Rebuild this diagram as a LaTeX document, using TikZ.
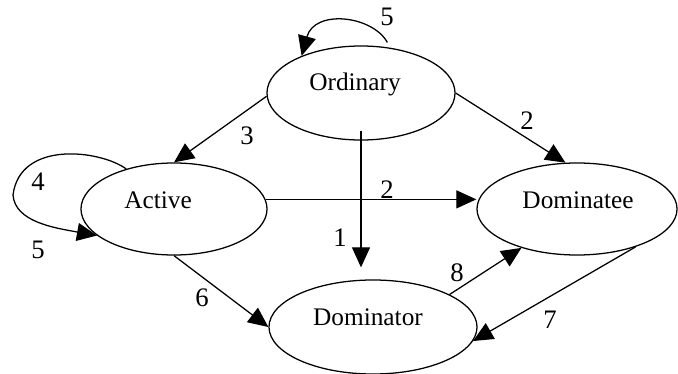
\documentclass[tikz,border=0pt]{standalone}
\usepackage{fontspec}
\setmainfont{Liberation Serif}
\usetikzlibrary{arrows.meta, shapes.geometric}

\begin{document}
\begin{tikzpicture}[
        x=0.025cm, y=-0.025cm,
        state/.style={ellipse, draw, line width=0.9pt, inner sep=0pt},
        statetext/.style={anchor=base, font=\fontsize{18}{20}\selectfont},
        num/.style={font=\fontsize{19}{21}\selectfont},
        every path/.style={line width=0.9pt},
        >={Triangle[length=0.5cm, width=0.45cm]}
    ]
    \useasboundingbox (0,0) rectangle (678,374);

    % states
    \node[state, minimum width=4.7cm, minimum height=2.35cm] (ord) at (361,93) {};
    \node[state, minimum width=4.65cm, minimum height=2.3cm] (act) at (174,209) {};
    \node[state, minimum width=5cm, minimum height=2.3cm] (dee) at (577,209) {};
    \node[state, minimum width=5.2cm, minimum height=2.35cm] (tor) at (373,327) {};

    \node[statetext] (ordText) at (355,91) {Ordinary};
    \node[statetext] (actText) at (158,208) {Active};
    \node[statetext] (deeText) at (578,208) {Dominatee};
    \node[statetext] (torText) at (368,325) {Dominator};

    % transitions
    \coordinate (drop) at (ord.south |- tor.north);
    \draw[->] (ord.182) -- (act.north);
    \draw[->] (ord.east) -- (dee.104);
    \draw[->] (act.6) -- (act.6 -| dee.west);
    \draw[->] ([yshift=0.25cm]ord.south) -- ([yshift=0.3cm]drop);
    \draw[->] (act.south) -- (tor.west);
    \draw[->] (tor.23) -- (dee.215);
    \draw[->] (dee.327) -- (tor.352);

    % self loops
    \draw[->] ([yshift=0.12cm]ord.60) .. controls +(-15,-27) and +(13,-47) .. (ord.148);
    \draw[->] (act.140) .. controls (100,150) and (20,140) .. (13,195)
        .. controls (15,222) and (55,228) .. (act.199);

    % labels
    \node[num] (loopOrd) at (387,17) {5};
    \node[num] (toAct) at (247,136) {3};
    \node[num] (ordDee) at (527,121) {2};
    \node[num] (actDee) at (387,190) {2};
    \node[num] (ordTor) at (340,238) {1};
    \node[num] (loopActA) at (38,182) {4};
    \node[num] (loopActB) at (38,250) {5};
    \node[num] (actTor) at (202,298) {6};
    \node[num] (torDee) at (457,273) {8};
    \node[num] (deeTor) at (550,320) {7};
\end{tikzpicture}
\end{document}
